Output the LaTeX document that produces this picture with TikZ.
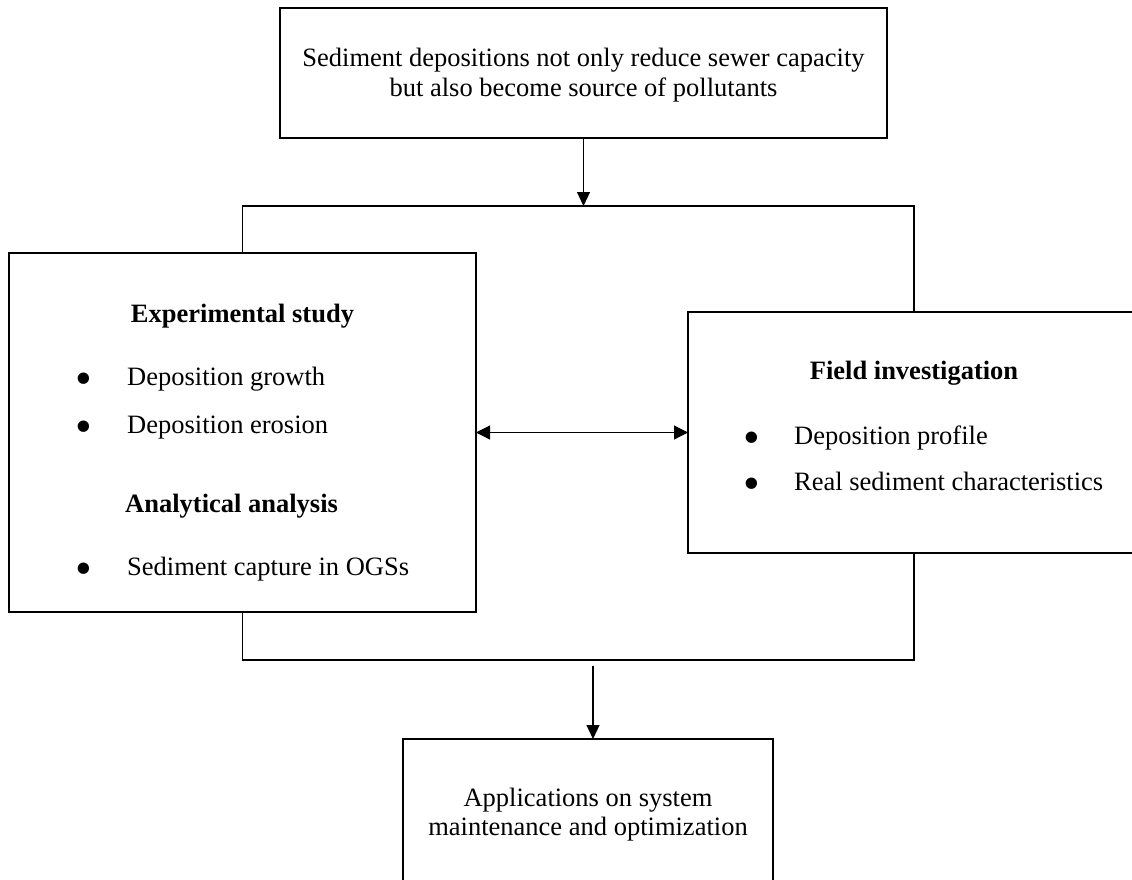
\documentclass[tikz,border=0pt]{standalone}
\usepackage{fontspec}
\setmainfont{Liberation Serif}
\usetikzlibrary{arrows.meta}
\newcommand{\bigbul}{\raisebox{-9pt}{\scalebox{1.8}{\textbullet}}}
\begin{document}
\begin{tikzpicture}[x=1pt,y=1pt,
  box/.style={draw, line width=2.6pt, inner sep=0pt, outer sep=0pt},
  conn/.style={line width=1.2pt},
  arr/.style={conn, -{Triangle[length=14pt,width=13pt]}},
  dbl/.style={conn, {Triangle[length=14pt,width=14pt]}-{Triangle[length=14pt,width=14pt]}},
  txt/.style={inner sep=0pt, font=\fontsize{26.5}{30}\selectfont},
  btxt/.style={txt, font=\fontsize{26.5}{30}\selectfont\bfseries}]
\useasboundingbox (0,0) rectangle (1132,-880);
\clip (0,0) rectangle (1132,-880);
% boxes
\node[box, minimum width=607pt, minimum height=130pt] (top) at (583.5,-73) {};
\node[box, minimum width=467pt, minimum height=359pt] (L) at (242.5,-432.5) {};
\node[box, minimum width=452pt, minimum height=241pt] (R) at (914,-432.5) {};
\node[box, minimum width=370pt, minimum height=142.2pt] (B) at (588,-810.1) {};
% texts
\node[txt, anchor=base] (t1) at (583.5,-67) {Sediment depositions not only reduce sewer capacity};
\node[txt, anchor=base] (t2) at (583.5,-97) {but also become source of pollutants};
\node[btxt, anchor=base] (le) at (242.5,-322) {Experimental study};
\node[txt, anchor=base] (lb1) at (84,-385) {\bigbul};
\node[txt, anchor=base west] (l1) at (127,-385) {Deposition growth};
\node[txt, anchor=base] (lb2) at (84,-433) {\bigbul};
\node[txt, anchor=base west] (l2) at (127,-433) {Deposition erosion};
\node[btxt, anchor=base west] (la) at (125,-512) {Analytical analysis};
\node[txt, anchor=base] (lb3) at (84,-575) {\bigbul};
\node[txt, anchor=base west] (l3) at (127,-575) {Sediment capture in OGSs};
\node[btxt, anchor=base] (rf) at (914,-379) {Field investigation};
\node[txt, anchor=base] (rb1) at (752,-444) {\bigbul};
\node[txt, anchor=base west] (r1) at (794,-444) {Deposition profile};
\node[txt, anchor=base] (rb2) at (752,-490) {\bigbul};
\node[txt, anchor=base west] (r2) at (794,-490) {Real sediment characteristics};
\node[txt, anchor=base] (b1) at (588,-806) {Applications on system};
\node[txt, anchor=base] (b2) at (588,-835) {maintenance and optimization};
% connectors
\coordinate (jt) at (583.5,-206);
\coordinate (jb) at (593,-660);
\coordinate (ab) at (593,-666);
\draw[arr] (top.south) -- (jt);
\draw[conn] (L.north) |- (jt) -| (R.north);
\draw[conn] (L.south) |- (jb) -| (R.south);
\draw[arr] (ab) -- (ab |- B.north);
\draw[dbl] (L) -- (R);
\end{tikzpicture}
\end{document}
